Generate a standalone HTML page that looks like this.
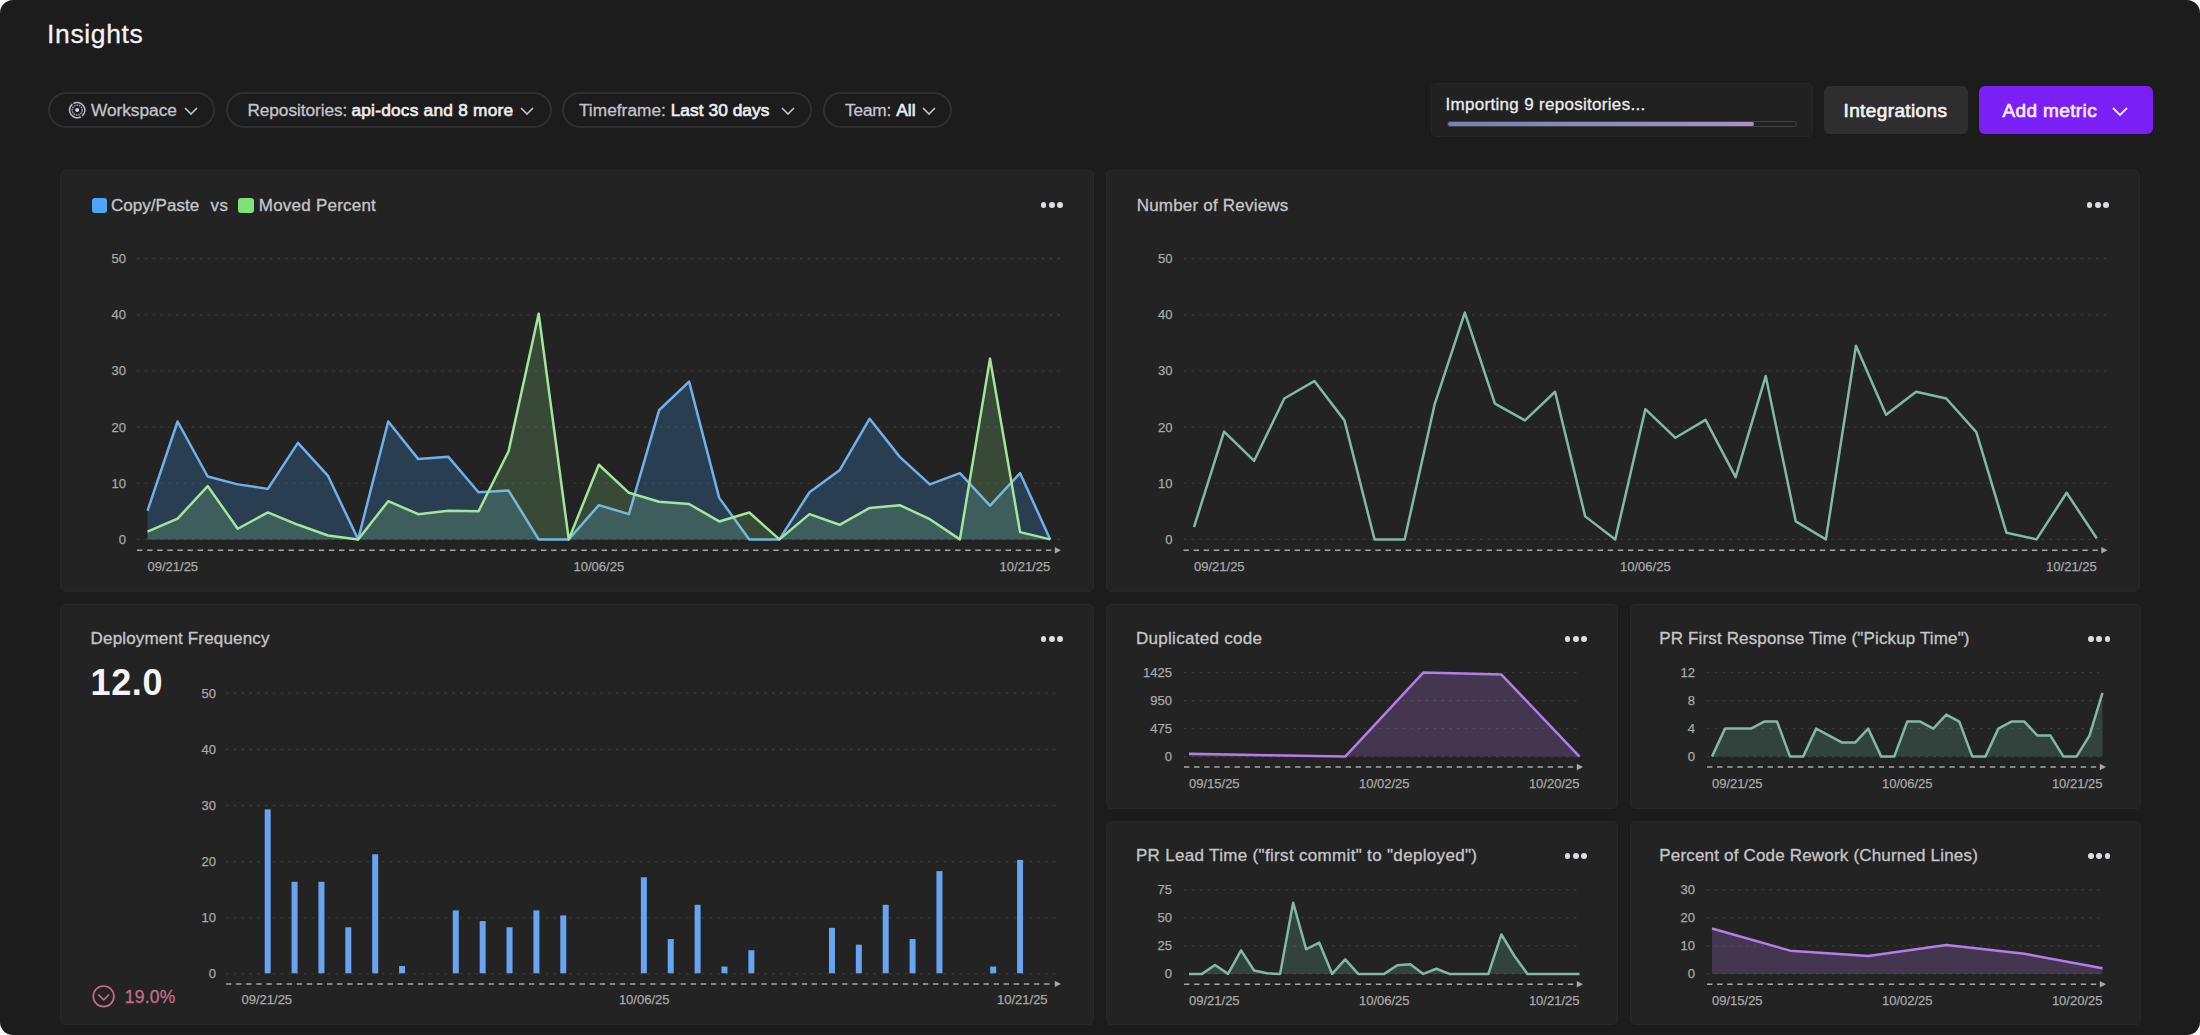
<!DOCTYPE html>
<html><head><meta charset="utf-8"><title>Insights</title>
<style>
html,body{margin:0;padding:0;background:#ffffff;}
body{width:2200px;height:1035px;overflow:hidden;position:relative;font-family:"Liberation Sans", Arial, sans-serif;}
#app{position:absolute;left:0;top:0;width:2200px;height:1035px;background:#1c1c1c;border-radius:13px;overflow:hidden;}
.card{position:absolute;box-sizing:border-box;background:#232323;border:1px solid #282828;border-radius:5px;}
.tx{position:absolute;white-space:nowrap;}
.tx.r{-webkit-text-stroke:0.3px currentColor;}
.tx.m{-webkit-text-stroke:0.65px currentColor;}
.pill{position:absolute;top:92px;height:36px;box-sizing:border-box;border:2px solid #2f2f2f;border-radius:18px;}
.dot{position:absolute;width:5.8px;height:5.8px;border-radius:50%;background:#dcdce2;}
svg text{font-family:"Liberation Sans", Arial, sans-serif;}
.yl{fill:#a9a9a9;stroke:#a9a9a9;stroke-width:0.25px;}
.xl{fill:#a9a9a9;stroke:#a9a9a9;stroke-width:0.25px;}
#imp{position:absolute;left:1431px;top:83px;width:382px;height:54px;box-sizing:border-box;background:#212121;border:1px solid #262626;border-radius:5px;}
#imp .track{position:absolute;left:15px;top:37.2px;width:350px;height:6px;box-sizing:border-box;border:1px solid #404040;border-radius:3px;}
#imp .bar{position:absolute;left:15.5px;top:38.3px;width:306px;height:3.8px;border-radius:2px;background:linear-gradient(90deg,#7581b6,#8b8bc2 50%,#ab90c8);}
.btn{position:absolute;top:86px;height:48px;border-radius:6px;}
#integ{left:1824px;width:144px;background:#2e2e2e;}
#add{left:1978.5px;width:174px;background:#7a1ff6;}
</style></head>
<body><div id="app">

<div class="pill" style="left:48px;width:167px;"></div>
<svg style="position:absolute;left:68px;top:101px" width="18" height="18" viewBox="0 0 18 18">
  <circle cx="9.2" cy="9.1" r="7.6" fill="none" stroke="#bcbcc6" stroke-width="1.6" stroke-dasharray="22.3 1.6" transform="rotate(-120 9.2 9.1)"/>
  <circle cx="9.2" cy="9.1" r="5" fill="none" stroke="#9696a4" stroke-width="1.5" stroke-dasharray="1.7 0.75"/>
  <circle cx="9.2" cy="9.1" r="2" fill="#d6d8e6"/>
</svg>
<svg style="position:absolute;left:184px;top:107px" width="14" height="8" viewBox="0 0 14 8"><path d="M1 1 L7.0 7 L13 1" fill="none" stroke="#c4c4cc" stroke-width="1.6"/></svg>
<div class="pill" style="left:226px;width:326px;"></div>
<svg style="position:absolute;left:520px;top:107px" width="14" height="8" viewBox="0 0 14 8"><path d="M1 1 L7.0 7 L13 1" fill="none" stroke="#c4c4cc" stroke-width="1.6"/></svg>
<div class="pill" style="left:562px;width:250px;"></div>
<svg style="position:absolute;left:781px;top:107px" width="14" height="8" viewBox="0 0 14 8"><path d="M1 1 L7.0 7 L13 1" fill="none" stroke="#c4c4cc" stroke-width="1.6"/></svg>
<div class="pill" style="left:823px;width:129px;"></div>
<svg style="position:absolute;left:922px;top:107px" width="14" height="8" viewBox="0 0 14 8"><path d="M1 1 L7.0 7 L13 1" fill="none" stroke="#c4c4cc" stroke-width="1.6"/></svg>

<div id="imp"><div class="track"></div><div class="bar"></div></div>
<div class="btn" id="integ"></div>
<div class="btn" id="add"></div>
<svg style="position:absolute;left:2112.3px;top:106.5px" width="16" height="9" viewBox="0 0 16 9"><path d="M1 1 L8.0 8 L15 1" fill="none" stroke="#f3e8ff" stroke-width="1.9"/></svg>

<div class="card" style="left:60px;top:170.3px;width:1034px;height:421.5px"></div>
<div class="card" style="left:1106px;top:170.3px;width:1034px;height:421.5px"></div>
<div class="card" style="left:60px;top:603.6px;width:1034px;height:421.7px"></div>
<div class="card" style="left:1106px;top:603.6px;width:511.5px;height:205.6px"></div>
<div class="card" style="left:1629.7px;top:603.6px;width:511.8px;height:205.6px"></div>
<div class="card" style="left:1106px;top:821.1px;width:511.5px;height:204.2px"></div>
<div class="card" style="left:1629.7px;top:821.1px;width:511.8px;height:204.2px"></div>

<i style="position:absolute;left:91.5px;top:197.5px;width:15.5px;height:15.5px;border-radius:3px;background:#4ea6fb;"></i>
<i style="position:absolute;left:238px;top:197.5px;width:15.5px;height:15.5px;border-radius:3px;background:#7fe176;"></i>
<i class="dot" style="left:1040.70px;top:202.15px"></i><i class="dot" style="left:1048.90px;top:202.15px"></i><i class="dot" style="left:1057.10px;top:202.15px"></i>
<i class="dot" style="left:2086.70px;top:202.15px"></i><i class="dot" style="left:2094.90px;top:202.15px"></i><i class="dot" style="left:2103.10px;top:202.15px"></i>
<i class="dot" style="left:1040.70px;top:635.90px"></i><i class="dot" style="left:1048.90px;top:635.90px"></i><i class="dot" style="left:1057.10px;top:635.90px"></i>
<i class="dot" style="left:1564.60px;top:635.90px"></i><i class="dot" style="left:1572.80px;top:635.90px"></i><i class="dot" style="left:1581.00px;top:635.90px"></i>
<i class="dot" style="left:2088.10px;top:635.90px"></i><i class="dot" style="left:2096.30px;top:635.90px"></i><i class="dot" style="left:2104.50px;top:635.90px"></i>
<i class="dot" style="left:1564.60px;top:852.90px"></i><i class="dot" style="left:1572.80px;top:852.90px"></i><i class="dot" style="left:1581.00px;top:852.90px"></i>
<i class="dot" style="left:2088.10px;top:852.90px"></i><i class="dot" style="left:2096.30px;top:852.90px"></i><i class="dot" style="left:2104.50px;top:852.90px"></i>

<svg style="position:absolute;left:92px;top:985px" width="24" height="24" viewBox="0 0 24 24">
  <circle cx="11.6" cy="11.3" r="10.3" fill="none" stroke="#c46e8a" stroke-width="1.7"/>
  <path d="M6.3 9.5 L11.7 14.9 L17.1 9.5" fill="none" stroke="#c46e8a" stroke-width="1.7"/>
</svg>

<div class="tx r" style="left:47.00px;top:21.49px;font-size:26.5px;line-height:26.5px;font-weight:400;color:#f3f3f5;letter-spacing:0.643px">Insights</div>
<div class="tx r" style="left:90.90px;top:101.52px;font-size:17.3px;line-height:17.3px;font-weight:400;color:#c4c4cc;letter-spacing:-0.012px">Workspace</div>
<div class="tx r" style="left:247.40px;top:101.52px;font-size:17.3px;line-height:17.3px;font-weight:400;color:#c4c4cc;letter-spacing:-0.075px">Repositories:</div>
<div class="tx m" style="left:351.40px;top:101.52px;font-size:17.3px;line-height:17.3px;font-weight:401;color:#ececef;letter-spacing:0.233px">api-docs and 8 more</div>
<div class="tx r" style="left:578.90px;top:101.52px;font-size:17.3px;line-height:17.3px;font-weight:400;color:#c4c4cc;letter-spacing:0.033px">Timeframe:</div>
<div class="tx m" style="left:670.70px;top:101.52px;font-size:17.3px;line-height:17.3px;font-weight:401;color:#ececef;letter-spacing:0.064px">Last 30 days</div>
<div class="tx r" style="left:845.00px;top:101.52px;font-size:17.3px;line-height:17.3px;font-weight:400;color:#c4c4cc;letter-spacing:-0.175px">Team:</div>
<div class="tx m" style="left:896.30px;top:101.52px;font-size:17.3px;line-height:17.3px;font-weight:401;color:#ececef;letter-spacing:0.000px">All</div>
<div class="tx r" style="left:1445.50px;top:96.16px;font-size:17px;line-height:17px;font-weight:400;color:#ededed;letter-spacing:0.304px">Importing 9 repositories...</div>
<div class="tx m" style="left:1843.50px;top:100.66px;font-size:19px;line-height:19px;font-weight:401;color:#f2f2f2;letter-spacing:0.382px">Integrations</div>
<div class="tx m" style="left:2002.40px;top:100.96px;font-size:19px;line-height:19px;font-weight:401;color:#f7ecff;letter-spacing:0.389px">Add metric</div>
<div class="tx r" style="left:111.00px;top:196.97px;font-size:17px;line-height:17px;font-weight:400;color:#c6c6ca;letter-spacing:0.033px">Copy/Paste</div>
<div class="tx r" style="left:210.50px;top:196.97px;font-size:17px;line-height:17px;font-weight:400;color:#c6c6ca;letter-spacing:0.400px">vs</div>
<div class="tx r" style="left:258.80px;top:196.97px;font-size:17px;line-height:17px;font-weight:400;color:#c6c6ca;letter-spacing:0.225px">Moved Percent</div>
<div class="tx r" style="left:1136.70px;top:196.77px;font-size:17px;line-height:17px;font-weight:400;color:#c6c6ca;letter-spacing:0.206px">Number of Reviews</div>
<div class="tx r" style="left:90.60px;top:630.47px;font-size:17px;line-height:17px;font-weight:400;color:#c6c6ca;letter-spacing:0.163px">Deployment Frequency</div>
<div class="tx r" style="left:1135.90px;top:630.47px;font-size:17px;line-height:17px;font-weight:400;color:#c6c6ca;letter-spacing:0.300px">Duplicated code</div>
<div class="tx r" style="left:1659.30px;top:630.47px;font-size:17px;line-height:17px;font-weight:400;color:#c6c6ca;letter-spacing:0.143px">PR First Response Time (&quot;Pickup Time&quot;)</div>
<div class="tx r" style="left:1135.90px;top:847.47px;font-size:17px;line-height:17px;font-weight:400;color:#c6c6ca;letter-spacing:0.326px">PR Lead Time (&quot;first commit&quot; to &quot;deployed&quot;)</div>
<div class="tx r" style="left:1659.30px;top:847.47px;font-size:17px;line-height:17px;font-weight:400;color:#c6c6ca;letter-spacing:0.181px">Percent of Code Rework (Churned Lines)</div>
<div class="tx" style="left:90.50px;top:664.72px;font-size:36px;line-height:36px;font-weight:700;color:#f5f5f7;letter-spacing:0.633px">12.0</div>
<div class="tx r" style="left:124.70px;top:988.59px;font-size:17.5px;line-height:17.5px;font-weight:400;color:#c46e8a;letter-spacing:0.275px">19.0%</div>

<svg style="position:absolute;left:0;top:0" width="2200" height="1035" viewBox="0 0 2200 1035">
<line x1="137" y1="539.4" x2="1060" y2="539.4" stroke="#3a3a3a" stroke-width="1.2" stroke-dasharray="2.6 5.2"/>
<line x1="137" y1="483.26" x2="1060" y2="483.26" stroke="#3a3a3a" stroke-width="1.2" stroke-dasharray="2.6 5.2"/>
<line x1="137" y1="427.12" x2="1060" y2="427.12" stroke="#3a3a3a" stroke-width="1.2" stroke-dasharray="2.6 5.2"/>
<line x1="137" y1="370.98" x2="1060" y2="370.98" stroke="#3a3a3a" stroke-width="1.2" stroke-dasharray="2.6 5.2"/>
<line x1="137" y1="314.84" x2="1060" y2="314.84" stroke="#3a3a3a" stroke-width="1.2" stroke-dasharray="2.6 5.2"/>
<line x1="137" y1="258.7" x2="1060" y2="258.7" stroke="#3a3a3a" stroke-width="1.2" stroke-dasharray="2.6 5.2"/>
<text x="126" y="539.4" text-anchor="end" dominant-baseline="central" class="yl" style="font-size:13px">0</text>
<text x="126" y="483.26" text-anchor="end" dominant-baseline="central" class="yl" style="font-size:13px">10</text>
<text x="126" y="427.12" text-anchor="end" dominant-baseline="central" class="yl" style="font-size:13px">20</text>
<text x="126" y="370.98" text-anchor="end" dominant-baseline="central" class="yl" style="font-size:13px">30</text>
<text x="126" y="314.84" text-anchor="end" dominant-baseline="central" class="yl" style="font-size:13px">40</text>
<text x="126" y="258.7" text-anchor="end" dominant-baseline="central" class="yl" style="font-size:13px">50</text>
<path d="M147.5,539.4 L147.5,510.77 L177.59,421.51 L207.68,476.52 L237.77,484.38 L267.86,488.87 L297.95,442.84 L328.04,475.96 L358.13,539.4 L388.22,421.51 L418.31,459.12 L448.4,456.87 L478.49,492.24 L508.58,490.56 L538.67,539.4 L568.76,539.4 L598.85,505.15 L628.94,514.14 L659.03,410.28 L689.12,381.65 L719.21,497.86 L749.3,539.4 L779.39,539.4 L809.48,492.24 L839.57,470.35 L869.66,418.7 L899.75,456.87 L929.84,484.38 L959.93,473.15 L990.02,505.72 L1020.11,473.15 L1050.2,539.4 L1050.2,539.4 Z" fill="#3f8fe0" fill-opacity="0.25"/>
<polyline points="147.5,510.77 177.59,421.51 207.68,476.52 237.77,484.38 267.86,488.87 297.95,442.84 328.04,475.96 358.13,539.4 388.22,421.51 418.31,459.12 448.4,456.87 478.49,492.24 508.58,490.56 538.67,539.4 568.76,539.4 598.85,505.15 628.94,514.14 659.03,410.28 689.12,381.65 719.21,497.86 749.3,539.4 779.39,539.4 809.48,492.24 839.57,470.35 869.66,418.7 899.75,456.87 929.84,484.38 959.93,473.15 990.02,505.72 1020.11,473.15 1050.2,539.4" fill="none" stroke="#72b0ea" stroke-width="2.5" stroke-linejoin="round"/>
<path d="M147.5,539.4 L147.5,531.54 L177.59,518.63 L207.68,486.07 L237.77,528.73 L267.86,512.45 L297.95,524.8 L328.04,535.47 L358.13,539.4 L388.22,501.22 L418.31,514.14 L448.4,510.77 L478.49,511.33 L508.58,451.26 L538.67,313.72 L568.76,539.4 L598.85,464.73 L628.94,492.8 L659.03,501.79 L689.12,504.03 L719.21,521.44 L749.3,512.45 L779.39,539.4 L809.48,514.14 L839.57,524.8 L869.66,507.96 L899.75,505.15 L929.84,519.19 L959.93,539.4 L990.02,358.63 L1020.11,532.1 L1050.2,539.4 L1050.2,539.4 Z" fill="#8ee38a" fill-opacity="0.2"/>
<polyline points="147.5,531.54 177.59,518.63 207.68,486.07 237.77,528.73 267.86,512.45 297.95,524.8 328.04,535.47 358.13,539.4 388.22,501.22 418.31,514.14 448.4,510.77 478.49,511.33 508.58,451.26 538.67,313.72 568.76,539.4 598.85,464.73 628.94,492.8 659.03,501.79 689.12,504.03 719.21,521.44 749.3,512.45 779.39,539.4 809.48,514.14 839.57,524.8 869.66,507.96 899.75,505.15 929.84,519.19 959.93,539.4 990.02,358.63 1020.11,532.1 1050.2,539.4" fill="none" stroke="#a2e69c" stroke-width="2.5" stroke-linejoin="round"/>
<line x1="137" y1="550.2" x2="1053" y2="550.2" stroke="#a8a8a8" stroke-width="1.5" stroke-dasharray="5.4 4.7"/>
<path d="M1054.8 547 L1061 550.2 L1054.8 553.4 Z" fill="#a8a8a8"/>
<text x="147.5" y="566.5" text-anchor="start" dominant-baseline="central" class="xl" style="font-size:13px">09/21/25</text>
<text x="598.85" y="566.5" text-anchor="middle" dominant-baseline="central" class="xl" style="font-size:13px">10/06/25</text>
<text x="1050.2" y="566.5" text-anchor="end" dominant-baseline="central" class="xl" style="font-size:13px">10/21/25</text>
<line x1="1183.5" y1="539.4" x2="2106.5" y2="539.4" stroke="#3a3a3a" stroke-width="1.2" stroke-dasharray="2.6 5.2"/>
<line x1="1183.5" y1="483.26" x2="2106.5" y2="483.26" stroke="#3a3a3a" stroke-width="1.2" stroke-dasharray="2.6 5.2"/>
<line x1="1183.5" y1="427.12" x2="2106.5" y2="427.12" stroke="#3a3a3a" stroke-width="1.2" stroke-dasharray="2.6 5.2"/>
<line x1="1183.5" y1="370.98" x2="2106.5" y2="370.98" stroke="#3a3a3a" stroke-width="1.2" stroke-dasharray="2.6 5.2"/>
<line x1="1183.5" y1="314.84" x2="2106.5" y2="314.84" stroke="#3a3a3a" stroke-width="1.2" stroke-dasharray="2.6 5.2"/>
<line x1="1183.5" y1="258.7" x2="2106.5" y2="258.7" stroke="#3a3a3a" stroke-width="1.2" stroke-dasharray="2.6 5.2"/>
<text x="1172.5" y="539.4" text-anchor="end" dominant-baseline="central" class="yl" style="font-size:13px">0</text>
<text x="1172.5" y="483.26" text-anchor="end" dominant-baseline="central" class="yl" style="font-size:13px">10</text>
<text x="1172.5" y="427.12" text-anchor="end" dominant-baseline="central" class="yl" style="font-size:13px">20</text>
<text x="1172.5" y="370.98" text-anchor="end" dominant-baseline="central" class="yl" style="font-size:13px">30</text>
<text x="1172.5" y="314.84" text-anchor="end" dominant-baseline="central" class="yl" style="font-size:13px">40</text>
<text x="1172.5" y="258.7" text-anchor="end" dominant-baseline="central" class="yl" style="font-size:13px">50</text>

<polyline points="1194,527.05 1224.09,431.61 1254.18,460.8 1284.27,398.49 1314.36,381.09 1344.45,420.38 1374.54,539.4 1404.63,539.4 1434.72,404.1 1464.81,312.59 1494.9,403.54 1524.99,420.38 1555.08,391.75 1585.17,516.38 1615.26,539.4 1645.35,409.16 1675.44,437.79 1705.53,419.82 1735.62,477.08 1765.71,376.03 1795.8,521.44 1825.89,539.4 1855.98,345.72 1886.07,414.77 1916.16,391.75 1946.25,398.49 1976.34,432.17 2006.43,532.66 2036.52,539.4 2066.61,492.8 2096.7,538.28" fill="none" stroke="#82b9a5" stroke-width="2.5" stroke-linejoin="round"/>
<line x1="1183.5" y1="550.2" x2="2099.5" y2="550.2" stroke="#a8a8a8" stroke-width="1.5" stroke-dasharray="5.4 4.7"/>
<path d="M2101.3 547 L2107.5 550.2 L2101.3 553.4 Z" fill="#a8a8a8"/>
<text x="1194" y="566.5" text-anchor="start" dominant-baseline="central" class="xl" style="font-size:13px">09/21/25</text>
<text x="1645.35" y="566.5" text-anchor="middle" dominant-baseline="central" class="xl" style="font-size:13px">10/06/25</text>
<text x="2096.7" y="566.5" text-anchor="end" dominant-baseline="central" class="xl" style="font-size:13px">10/21/25</text>
<line x1="226" y1="973.9" x2="1059" y2="973.9" stroke="#3a3a3a" stroke-width="1.2" stroke-dasharray="2.6 5.2"/>
<line x1="226" y1="917.76" x2="1059" y2="917.76" stroke="#3a3a3a" stroke-width="1.2" stroke-dasharray="2.6 5.2"/>
<line x1="226" y1="861.62" x2="1059" y2="861.62" stroke="#3a3a3a" stroke-width="1.2" stroke-dasharray="2.6 5.2"/>
<line x1="226" y1="805.48" x2="1059" y2="805.48" stroke="#3a3a3a" stroke-width="1.2" stroke-dasharray="2.6 5.2"/>
<line x1="226" y1="749.34" x2="1059" y2="749.34" stroke="#3a3a3a" stroke-width="1.2" stroke-dasharray="2.6 5.2"/>
<line x1="226" y1="693.2" x2="1059" y2="693.2" stroke="#3a3a3a" stroke-width="1.2" stroke-dasharray="2.6 5.2"/>
<text x="216" y="973.9" text-anchor="end" dominant-baseline="central" class="yl" style="font-size:13px">0</text>
<text x="216" y="917.76" text-anchor="end" dominant-baseline="central" class="yl" style="font-size:13px">10</text>
<text x="216" y="861.62" text-anchor="end" dominant-baseline="central" class="yl" style="font-size:13px">20</text>
<text x="216" y="805.48" text-anchor="end" dominant-baseline="central" class="yl" style="font-size:13px">30</text>
<text x="216" y="749.34" text-anchor="end" dominant-baseline="central" class="yl" style="font-size:13px">40</text>
<text x="216" y="693.2" text-anchor="end" dominant-baseline="central" class="yl" style="font-size:13px">50</text>
<rect x="264.7" y="809.37" width="6" height="163.93" fill="#68a4ef"/>
<rect x="291.57" y="881.79" width="6" height="91.51" fill="#68a4ef"/>
<rect x="318.44" y="881.79" width="6" height="91.51" fill="#68a4ef"/>
<rect x="345.31" y="927.27" width="6" height="46.03" fill="#68a4ef"/>
<rect x="372.18" y="854.28" width="6" height="119.02" fill="#68a4ef"/>
<rect x="399.05" y="966" width="6" height="7.3" fill="#68a4ef"/>
<rect x="452.79" y="910.42" width="6" height="62.88" fill="#68a4ef"/>
<rect x="479.66" y="921.09" width="6" height="52.21" fill="#68a4ef"/>
<rect x="506.53" y="927.27" width="6" height="46.03" fill="#68a4ef"/>
<rect x="533.4" y="910.42" width="6" height="62.88" fill="#68a4ef"/>
<rect x="560.27" y="915.48" width="6" height="57.82" fill="#68a4ef"/>
<rect x="640.88" y="877.3" width="6" height="96" fill="#68a4ef"/>
<rect x="667.75" y="939.05" width="6" height="34.25" fill="#68a4ef"/>
<rect x="694.62" y="904.81" width="6" height="68.49" fill="#68a4ef"/>
<rect x="721.49" y="966.56" width="6" height="6.74" fill="#68a4ef"/>
<rect x="748.36" y="950.28" width="6" height="23.02" fill="#68a4ef"/>
<rect x="828.97" y="927.83" width="6" height="45.47" fill="#68a4ef"/>
<rect x="855.84" y="944.67" width="6" height="28.63" fill="#68a4ef"/>
<rect x="882.71" y="904.81" width="6" height="68.49" fill="#68a4ef"/>
<rect x="909.58" y="939.05" width="6" height="34.25" fill="#68a4ef"/>
<rect x="936.45" y="871.13" width="6" height="102.17" fill="#68a4ef"/>
<rect x="990.19" y="966.56" width="6" height="6.74" fill="#68a4ef"/>
<rect x="1017.06" y="859.9" width="6" height="113.4" fill="#68a4ef"/>
<line x1="226" y1="983.9" x2="1053" y2="983.9" stroke="#a8a8a8" stroke-width="1.5" stroke-dasharray="5.4 4.7"/>
<path d="M1054.8 980.7 L1061 983.9 L1054.8 987.1 Z" fill="#a8a8a8"/>
<text x="266.8" y="999.5" text-anchor="middle" dominant-baseline="central" class="xl" style="font-size:13px">09/21/25</text>
<text x="644.2" y="999.5" text-anchor="middle" dominant-baseline="central" class="xl" style="font-size:13px">10/06/25</text>
<text x="1022.3" y="999.5" text-anchor="middle" dominant-baseline="central" class="xl" style="font-size:13px">10/21/25</text>
<line x1="1184" y1="756.6" x2="1580" y2="756.6" stroke="#3a3a3a" stroke-width="1.2" stroke-dasharray="2.6 5.2"/>
<line x1="1184" y1="728.6" x2="1580" y2="728.6" stroke="#3a3a3a" stroke-width="1.2" stroke-dasharray="2.6 5.2"/>
<line x1="1184" y1="700.6" x2="1580" y2="700.6" stroke="#3a3a3a" stroke-width="1.2" stroke-dasharray="2.6 5.2"/>
<line x1="1184" y1="672.6" x2="1580" y2="672.6" stroke="#3a3a3a" stroke-width="1.2" stroke-dasharray="2.6 5.2"/>
<text x="1172" y="756.6" text-anchor="end" dominant-baseline="central" class="yl" style="font-size:13px">0</text>
<text x="1172" y="728.6" text-anchor="end" dominant-baseline="central" class="yl" style="font-size:13px">475</text>
<text x="1172" y="700.6" text-anchor="end" dominant-baseline="central" class="yl" style="font-size:13px">950</text>
<text x="1172" y="672.6" text-anchor="end" dominant-baseline="central" class="yl" style="font-size:13px">1425</text>
<path d="M1189,756.6 L1189,753.65 L1267.1,755.13 L1345.2,756.6 L1423.3,672.6 L1501.4,674.55 L1579.5,756.6 L1579.5,756.6 Z" fill="#b67de6" fill-opacity="0.22"/>
<polyline points="1189,753.65 1267.1,755.13 1345.2,756.6 1423.3,672.6 1501.4,674.55 1579.5,756.6" fill="none" stroke="#b67de6" stroke-width="2.5" stroke-linejoin="round"/>
<line x1="1184" y1="767" x2="1575" y2="767" stroke="#a8a8a8" stroke-width="1.5" stroke-dasharray="5.4 4.7"/>
<path d="M1576.8 763.8 L1583 767 L1576.8 770.2 Z" fill="#a8a8a8"/>
<text x="1189" y="783.4" text-anchor="start" dominant-baseline="central" class="xl" style="font-size:13px">09/15/25</text>
<text x="1384.25" y="783.4" text-anchor="middle" dominant-baseline="central" class="xl" style="font-size:13px">10/02/25</text>
<text x="1579.5" y="783.4" text-anchor="end" dominant-baseline="central" class="xl" style="font-size:13px">10/20/25</text>
<line x1="1707" y1="756.6" x2="2103" y2="756.6" stroke="#3a3a3a" stroke-width="1.2" stroke-dasharray="2.6 5.2"/>
<line x1="1707" y1="728.6" x2="2103" y2="728.6" stroke="#3a3a3a" stroke-width="1.2" stroke-dasharray="2.6 5.2"/>
<line x1="1707" y1="700.6" x2="2103" y2="700.6" stroke="#3a3a3a" stroke-width="1.2" stroke-dasharray="2.6 5.2"/>
<line x1="1707" y1="672.6" x2="2103" y2="672.6" stroke="#3a3a3a" stroke-width="1.2" stroke-dasharray="2.6 5.2"/>
<text x="1695" y="756.6" text-anchor="end" dominant-baseline="central" class="yl" style="font-size:13px">0</text>
<text x="1695" y="728.6" text-anchor="end" dominant-baseline="central" class="yl" style="font-size:13px">4</text>
<text x="1695" y="700.6" text-anchor="end" dominant-baseline="central" class="yl" style="font-size:13px">8</text>
<text x="1695" y="672.6" text-anchor="end" dominant-baseline="central" class="yl" style="font-size:13px">12</text>
<path d="M1712,756.6 L1712,756.6 L1725.02,728.6 L1738.03,728.6 L1751.05,728.6 L1764.07,721.6 L1777.08,721.6 L1790.1,756.6 L1803.12,756.6 L1816.13,728.6 L1829.15,735.6 L1842.17,742.6 L1855.18,742.6 L1868.2,728.6 L1881.22,756.6 L1894.23,756.6 L1907.25,721.6 L1920.27,721.6 L1933.28,728.6 L1946.3,714.6 L1959.32,721.6 L1972.33,756.6 L1985.35,756.6 L1998.37,728.6 L2011.38,721.6 L2024.4,721.6 L2037.42,735.6 L2050.43,735.6 L2063.45,756.6 L2076.47,756.6 L2089.48,735.6 L2102.5,692.9 L2102.5,756.6 Z" fill="#6fc2a3" fill-opacity="0.2"/>
<polyline points="1712,756.6 1725.02,728.6 1738.03,728.6 1751.05,728.6 1764.07,721.6 1777.08,721.6 1790.1,756.6 1803.12,756.6 1816.13,728.6 1829.15,735.6 1842.17,742.6 1855.18,742.6 1868.2,728.6 1881.22,756.6 1894.23,756.6 1907.25,721.6 1920.27,721.6 1933.28,728.6 1946.3,714.6 1959.32,721.6 1972.33,756.6 1985.35,756.6 1998.37,728.6 2011.38,721.6 2024.4,721.6 2037.42,735.6 2050.43,735.6 2063.45,756.6 2076.47,756.6 2089.48,735.6 2102.5,692.9" fill="none" stroke="#82b9a5" stroke-width="2.5" stroke-linejoin="round"/>
<line x1="1707" y1="767" x2="2098" y2="767" stroke="#a8a8a8" stroke-width="1.5" stroke-dasharray="5.4 4.7"/>
<path d="M2099.8 763.8 L2106 767 L2099.8 770.2 Z" fill="#a8a8a8"/>
<text x="1712" y="783.4" text-anchor="start" dominant-baseline="central" class="xl" style="font-size:13px">09/21/25</text>
<text x="1907.25" y="783.4" text-anchor="middle" dominant-baseline="central" class="xl" style="font-size:13px">10/06/25</text>
<text x="2102.5" y="783.4" text-anchor="end" dominant-baseline="central" class="xl" style="font-size:13px">10/21/25</text>
<line x1="1184" y1="973.9" x2="1580" y2="973.9" stroke="#3a3a3a" stroke-width="1.2" stroke-dasharray="2.6 5.2"/>
<line x1="1184" y1="945.9" x2="1580" y2="945.9" stroke="#3a3a3a" stroke-width="1.2" stroke-dasharray="2.6 5.2"/>
<line x1="1184" y1="917.9" x2="1580" y2="917.9" stroke="#3a3a3a" stroke-width="1.2" stroke-dasharray="2.6 5.2"/>
<line x1="1184" y1="889.9" x2="1580" y2="889.9" stroke="#3a3a3a" stroke-width="1.2" stroke-dasharray="2.6 5.2"/>
<text x="1172" y="973.9" text-anchor="end" dominant-baseline="central" class="yl" style="font-size:13px">0</text>
<text x="1172" y="945.9" text-anchor="end" dominant-baseline="central" class="yl" style="font-size:13px">25</text>
<text x="1172" y="917.9" text-anchor="end" dominant-baseline="central" class="yl" style="font-size:13px">50</text>
<text x="1172" y="889.9" text-anchor="end" dominant-baseline="central" class="yl" style="font-size:13px">75</text>
<path d="M1189,973.9 L1189,973.9 L1202.02,973.9 L1215.03,964.94 L1228.05,973.9 L1241.07,950.38 L1254.08,970.54 L1267.1,973.34 L1280.12,973.9 L1293.13,902.67 L1306.15,949.26 L1319.17,942.54 L1332.18,973.9 L1345.2,959.34 L1358.22,973.9 L1371.23,973.9 L1384.25,973.9 L1397.27,965.28 L1410.28,964.16 L1423.3,973.9 L1436.32,968.75 L1449.33,973.9 L1462.35,973.9 L1475.37,973.9 L1488.38,973.9 L1501.4,934.48 L1514.42,955.98 L1527.43,973.9 L1540.45,973.9 L1553.47,973.9 L1566.48,973.9 L1579.5,973.9 L1579.5,973.9 Z" fill="#6fc2a3" fill-opacity="0.2"/>
<polyline points="1189,973.9 1202.02,973.9 1215.03,964.94 1228.05,973.9 1241.07,950.38 1254.08,970.54 1267.1,973.34 1280.12,973.9 1293.13,902.67 1306.15,949.26 1319.17,942.54 1332.18,973.9 1345.2,959.34 1358.22,973.9 1371.23,973.9 1384.25,973.9 1397.27,965.28 1410.28,964.16 1423.3,973.9 1436.32,968.75 1449.33,973.9 1462.35,973.9 1475.37,973.9 1488.38,973.9 1501.4,934.48 1514.42,955.98 1527.43,973.9 1540.45,973.9 1553.47,973.9 1566.48,973.9 1579.5,973.9" fill="none" stroke="#82b9a5" stroke-width="2.5" stroke-linejoin="round"/>
<line x1="1184" y1="984.3" x2="1575" y2="984.3" stroke="#a8a8a8" stroke-width="1.5" stroke-dasharray="5.4 4.7"/>
<path d="M1576.8 981.1 L1583 984.3 L1576.8 987.5 Z" fill="#a8a8a8"/>
<text x="1189" y="1000.6" text-anchor="start" dominant-baseline="central" class="xl" style="font-size:13px">09/21/25</text>
<text x="1384.25" y="1000.6" text-anchor="middle" dominant-baseline="central" class="xl" style="font-size:13px">10/06/25</text>
<text x="1579.5" y="1000.6" text-anchor="end" dominant-baseline="central" class="xl" style="font-size:13px">10/21/25</text>
<line x1="1707" y1="973.9" x2="2103" y2="973.9" stroke="#3a3a3a" stroke-width="1.2" stroke-dasharray="2.6 5.2"/>
<line x1="1707" y1="945.9" x2="2103" y2="945.9" stroke="#3a3a3a" stroke-width="1.2" stroke-dasharray="2.6 5.2"/>
<line x1="1707" y1="917.9" x2="2103" y2="917.9" stroke="#3a3a3a" stroke-width="1.2" stroke-dasharray="2.6 5.2"/>
<line x1="1707" y1="889.9" x2="2103" y2="889.9" stroke="#3a3a3a" stroke-width="1.2" stroke-dasharray="2.6 5.2"/>
<text x="1695" y="973.9" text-anchor="end" dominant-baseline="central" class="yl" style="font-size:13px">0</text>
<text x="1695" y="945.9" text-anchor="end" dominant-baseline="central" class="yl" style="font-size:13px">10</text>
<text x="1695" y="917.9" text-anchor="end" dominant-baseline="central" class="yl" style="font-size:13px">20</text>
<text x="1695" y="889.9" text-anchor="end" dominant-baseline="central" class="yl" style="font-size:13px">30</text>
<path d="M1712,973.9 L1712,928.54 L1790.1,950.66 L1868.2,955.98 L1946.3,945.06 L2024.4,953.74 L2102.5,968.3 L2102.5,973.9 Z" fill="#b67de6" fill-opacity="0.22"/>
<polyline points="1712,928.54 1790.1,950.66 1868.2,955.98 1946.3,945.06 2024.4,953.74 2102.5,968.3" fill="none" stroke="#b67de6" stroke-width="2.5" stroke-linejoin="round"/>
<line x1="1707" y1="984.3" x2="2098" y2="984.3" stroke="#a8a8a8" stroke-width="1.5" stroke-dasharray="5.4 4.7"/>
<path d="M2099.8 981.1 L2106 984.3 L2099.8 987.5 Z" fill="#a8a8a8"/>
<text x="1712" y="1000.6" text-anchor="start" dominant-baseline="central" class="xl" style="font-size:13px">09/15/25</text>
<text x="1907.25" y="1000.6" text-anchor="middle" dominant-baseline="central" class="xl" style="font-size:13px">10/02/25</text>
<text x="2102.5" y="1000.6" text-anchor="end" dominant-baseline="central" class="xl" style="font-size:13px">10/20/25</text>
</svg>
</div></body></html>
